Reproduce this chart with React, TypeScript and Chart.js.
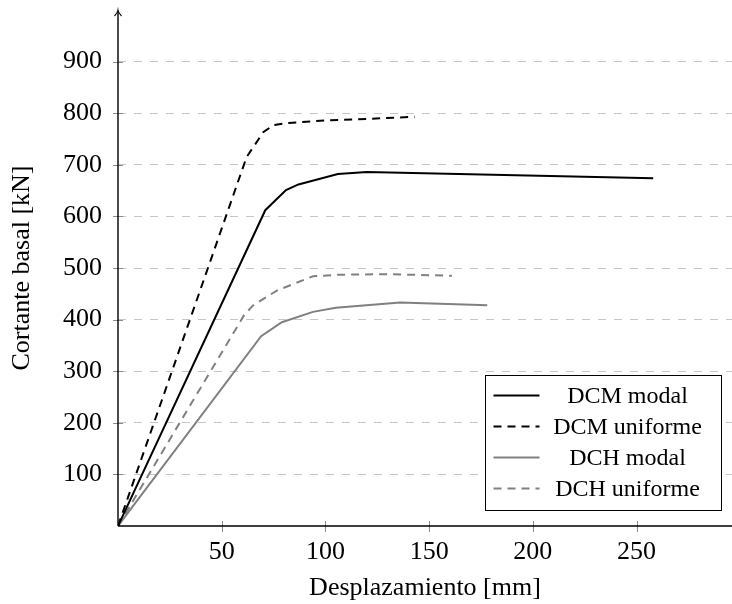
import React, { useEffect, useRef } from "react";
import { Chart, registerables } from "chart.js";

Chart.register(...registerables);

// ---- data ----
const dcmModalX = [0, 71, 81, 87, 106, 120, 258];
const dcmModalY = [0, 612, 651, 662, 682, 686, 674];

const dcmUniformeX = [0, 62, 70, 75, 82, 100, 120, 143];
const dcmUniformeY = [0, 715, 763, 777, 781, 786, 789, 793];

const dchModalX = [0, 69, 79, 94, 105, 136, 178];
const dchModalY = [0, 368, 395, 415, 423, 433, 428];

const dchUniformeX = [0, 61, 65, 72, 77, 94, 107, 130, 161];
const dchUniformeY = [0, 410, 427, 445, 457, 484, 487, 488, 485];

const seriesLabels = ["DCM modal", "DCM uniforme", "DCH modal", "DCH uniforme"];
const xTickValues = [50, 100, 150, 200, 250];
const yTickValues = [100, 200, 300, 400, 500, 600, 700, 800, 900];
const xTitle = "Desplazamiento [mm]";
const yTitle = "Cortante basal [kN]";

const FONT = "'Liberation Serif', 'Times New Roman', serif";

const toPoints = (xs: number[], ys: number[]) => xs.map((x, i) => ({ x, y: ys[i] }));

const axesLegendPlugin = {
  id: "axesLegend",
  afterDraw(chart: any) {
    const { ctx, chartArea, scales } = chart;
    const xs = scales.x;
    const ys = scales.y;
    const { left, right, top, bottom } = chartArea;
    ctx.save();
    // tick marks
    ctx.strokeStyle = "#8a8a8a";
    ctx.lineWidth = 1;
    ctx.setLineDash([]);
    ys.ticks.forEach((t: any) => {
      const p = Math.round(ys.getPixelForValue(t.value)) + 0.5;
      ctx.beginPath();
      ctx.moveTo(left - 5, p);
      ctx.lineTo(left + 5, p);
      ctx.stroke();
    });
    xs.ticks.forEach((t: any) => {
      const p = Math.round(xs.getPixelForValue(t.value)) + 0.5;
      ctx.beginPath();
      ctx.moveTo(p, bottom - 5);
      ctx.lineTo(p, bottom + 6);
      ctx.stroke();
    });
    // axes
    ctx.strokeStyle = "#000";
    ctx.lineWidth = 1.4;
    ctx.beginPath();
    ctx.moveTo(left, bottom);
    ctx.lineTo(right, bottom);
    ctx.moveTo(left, bottom);
    ctx.lineTo(left, top + 1);
    ctx.stroke();
    // arrow head
    ctx.lineWidth = 1.1;
    ctx.beginPath();
    ctx.moveTo(left - 3.5, top + 6);
    ctx.quadraticCurveTo(left - 0.5, top + 3, left, top);
    ctx.quadraticCurveTo(left + 0.5, top + 3, left + 3.5, top + 6);
    ctx.stroke();

    // legend
    const boxW = 236;
    const boxH = 135;
    const bx = Math.round(right - 11 - boxW) + 0.5;
    const by = Math.round(bottom - 16 - boxH) + 0.5;
    ctx.fillStyle = "#fff";
    ctx.fillRect(bx, by, boxW, boxH);
    ctx.strokeStyle = "#000";
    ctx.lineWidth = 1;
    ctx.strokeRect(bx, by, boxW, boxH);
    ctx.font = `24px ${FONT}`;
    ctx.textAlign = "center";
    ctx.textBaseline = "middle";
    chart.data.datasets.forEach((ds: any, i: number) => {
      const cy = by + 20 + i * 31;
      ctx.strokeStyle = ds.borderColor;
      ctx.lineWidth = ds.borderWidth;
      ctx.setLineDash(ds.borderDash || []);
      ctx.beginPath();
      ctx.moveTo(bx + 8, cy);
      ctx.lineTo(bx + 54, cy);
      ctx.stroke();
      ctx.setLineDash([]);
      ctx.fillStyle = "#000";
      ctx.fillText(ds.label, bx + 142, cy + 1);
    });
    ctx.restore();
  },
};

export default function App() {
  const ref = useRef<HTMLCanvasElement | null>(null);
  useEffect(() => {
    document.body.style.margin = "0";
    if (!ref.current) return;
    Chart.defaults.font.family = FONT;
    const chart = new Chart(ref.current, {
      type: "line",
      data: {
        datasets: [
          {
            label: seriesLabels[0],
            data: toPoints(dcmModalX, dcmModalY),
            borderColor: "#000000",
            borderWidth: 2,
            pointRadius: 0,
            fill: false,
            tension: 0,
          },
          {
            label: seriesLabels[1],
            data: toPoints(dcmUniformeX, dcmUniformeY),
            borderColor: "#000000",
            borderWidth: 2,
            borderDash: [8, 6],
            pointRadius: 0,
            fill: false,
            tension: 0,
          },
          {
            label: seriesLabels[2],
            data: toPoints(dchModalX, dchModalY),
            borderColor: "#808080",
            borderWidth: 2,
            pointRadius: 0,
            fill: false,
            tension: 0,
          },
          {
            label: seriesLabels[3],
            data: toPoints(dchUniformeX, dchUniformeY),
            borderColor: "#808080",
            borderWidth: 2,
            borderDash: [8, 6],
            pointRadius: 0,
            fill: false,
            tension: 0,
          },
        ],
      },
      options: {
        animation: false,
        responsive: false,
        maintainAspectRatio: false,
        layout: { padding: { top: 10, right: 0, left: 0, bottom: 0 } },
        plugins: { legend: { display: false }, tooltip: { enabled: false } },
        scales: {
          x: {
            type: "linear",
            min: 0,
            max: 296,
            afterBuildTicks: (s: any) => {
              s.ticks = xTickValues.map((v) => ({ value: v }));
            },
            afterFit: (s: any) => {
              s.height = 78;
              s.paddingLeft = 0;
              s.paddingRight = 0;
            },
            grid: { display: false },
            border: { display: false },
            ticks: {
              color: "#000",
              font: { size: 26, family: FONT },
              padding: 3,
              maxRotation: 0,
              autoSkip: false,
            },
            title: {
              display: true,
              text: xTitle,
              color: "#000",
              font: { size: 26, family: FONT },
              padding: { top: 0, bottom: 0 },
            },
          },
          y: {
            type: "linear",
            min: 0,
            max: 1000,
            afterBuildTicks: (s: any) => {
              s.ticks = yTickValues.map((v) => ({ value: v }));
            },
            afterFit: (s: any) => {
              s.width = 118;
              s.paddingTop = 0;
              s.paddingBottom = 0;
            },
            grid: {
              display: true,
              drawTicks: false,
              color: "#c6c6c6",
              lineWidth: 1,
            },
            border: { display: false, dash: [8, 8] },
            ticks: {
              color: "#000",
              font: { size: 26, family: FONT },
              padding: 16,
              autoSkip: false,
            },
            title: {
              display: true,
              text: yTitle,
              color: "#000",
              font: { size: 26, family: FONT },
              padding: { top: 7, bottom: 0 },
            },
          },
        },
      },
      plugins: [axesLegendPlugin],
    });
    return () => chart.destroy();
  }, []);
  return (
    <div style={{ width: 732, height: 604 }}>
      <canvas ref={ref} width={732} height={604} style={{ display: "block" }} />
    </div>
  );
}
